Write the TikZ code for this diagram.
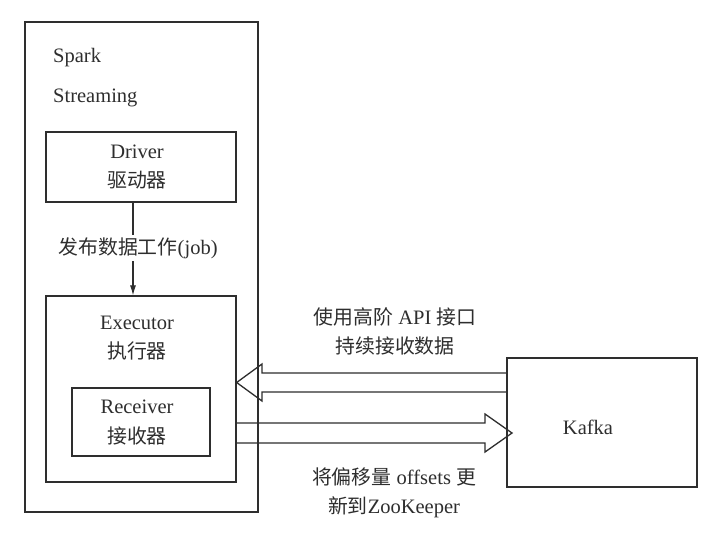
\documentclass[tikz,border=0pt]{standalone}
\usepackage{fontspec}
\setmainfont{Liberation Serif}
\newfontfamily\cjk[Scale=0.97]{Noto Sans CJK SC}
\usetikzlibrary{arrows.meta,calc}
\definecolor{ink}{HTML}{2E2E2E}
\begin{document}
\begin{tikzpicture}[x=1pt,y=-1pt,
  every node/.style={text=ink,font=\fontsize{20.5}{29.5}\selectfont},
  box/.style={draw=ink,line width=1.3pt,rectangle,inner sep=0pt},
  txt/.style={align=center,inner sep=1pt},
  line/.style={draw=ink,line width=1.3pt},
  conn/.style={draw=ink,line width=1.1pt,-{Latex[length=10pt,width=6pt]}}]
\useasboundingbox (0,0) rectangle (722,546);
\fill[white] (0,0) rectangle (722,546);
% boxes
\node[box,minimum width=233pt,minimum height=490pt] (outer) at (141.5,267) {};
\node[box,minimum width=190pt,minimum height=70pt] (driver) at (141,167) {};
\node[box,minimum width=190pt,minimum height=186pt] (exec) at (141,389) {};
\node[box,minimum width=138pt,minimum height=68pt] (recv) at (141,422) {};
\node[box,minimum width=190pt,minimum height=129pt] (kafka) at (602,422.5) {};
% texts
\node[anchor=west,inner sep=0pt] (spark) at (53,58) {Spark};
\node[anchor=west,inner sep=0pt] (streaming) at (53,98) {Streaming};
\node[txt] (drivertxt) at (137,167) {Driver\\{\cjk 驱动器}};
\node[txt] (exectxt) at (137,338) {Executor\\{\cjk 执行器}};
\node[txt] (recvtxt) at (137,422.5) {Receiver\\{\cjk 接收器}};
\node[inner sep=0pt] (kafkatxt) at (588,427) {Kafka};
% driver -> executor
\draw[conn] (driver.south -| 133,0) -- (exec.north -| 133,0);
\node[fill=white,inner sep=2pt] (joblbl) at (138,248) {{\cjk 发布数据工作}(job)};
% block arrows
\draw[line,line join=miter] (kafka.west |- 0,373) -- (262,373) -- (262,364) -- (exec.east |- 0,382.5)
  -- (262,401) -- (262,392) -- (kafka.west |- 0,392);
\draw[line,line join=miter] (exec.east |- 0,423) -- (485,423) -- (485,414) -- (512,433)
  -- (485,452) -- (485,443) -- (exec.east |- 0,443);
% arrow labels
\node[txt] (apilbl) at (395,331.5) {{\cjk 使用高阶} API {\cjk 接口}\\{\cjk 持续接收数据}};
\node[txt] (offlbl) at (394,493) {{\cjk 将偏移量} offsets {\cjk 更}\\{\cjk 新到}ZooKeeper};
\end{tikzpicture}
\end{document}
